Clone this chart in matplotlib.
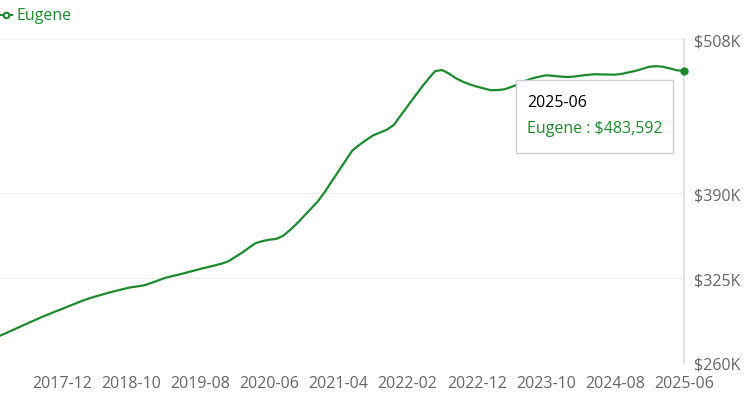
import numpy as np
import pandas as pd
import matplotlib
matplotlib.use('Agg')
import matplotlib.pyplot as plt
from matplotlib.lines import Line2D
from matplotlib.patches import Rectangle

plt.rcParams['font.family'] = ['Open Sans', 'DejaVu Sans']

# monthly values (thousand $), 2017-03 .. 2025-06
months = pd.period_range('2017-03', '2025-06', freq='M').strftime('%Y-%m').tolist()
values = [
    280.9, 283.2, 285.6, 288.0, 290.4, 292.7, 295.1, 297.2, 299.4, 301.4,
    303.6, 305.7, 307.8, 309.6, 311.2, 312.7, 314.2, 315.5, 316.8, 318.0,
    318.7, 319.6, 321.5, 323.4, 325.3, 326.6, 327.8, 329.2, 330.6, 332.0,
    333.3, 334.6, 335.9, 337.7, 341.0, 344.3, 348.1, 351.8, 353.3, 354.4,
    355.0, 357.5, 361.9, 366.9, 372.5, 378.1, 383.7, 390.9, 398.9, 406.8,
    414.8, 422.7, 426.9, 430.7, 434.2, 436.4, 438.6, 442.2, 449.5, 456.7,
    463.8, 470.9, 477.5, 483.5, 484.2, 481.5, 477.9, 475.3, 473.2, 471.6,
    470.2, 468.8, 468.9, 469.5, 471.3, 473.3, 475.9, 477.8, 479.1, 480.2,
    479.8, 479.3, 478.9, 479.2, 479.9, 480.5, 481.0, 480.9, 480.8, 480.7,
    481.3, 482.5, 483.6, 485.2, 486.8, 487.2, 486.7, 485.4, 484.0, 483.592,
]
tick_labels = ['2017-12', '2018-10', '2019-08', '2020-06', '2021-04',
               '2022-02', '2022-12', '2023-10', '2024-08', '2025-06']
y_ticks = [260, 325, 390, 508]
y_labels = ['$260K', '$325K', '$390K', '$508K']
last_label = 'Eugene : $483,592'

green = '#1d8b2d'
gray = '#666666'
fs = 11.5

fig = plt.figure(figsize=(7.44, 4.02), dpi=100)
ax = fig.add_axes([0, 38 / 402, 684 / 744, 324 / 402])

x = np.arange(len(months))
ax.plot(x, values, color=green, lw=1.6, solid_joinstyle='round')
ax.plot(x[-1], values[-1], 'o', color=green, ms=5, clip_on=False, zorder=5)

ax.set_xlim(0, len(months) - 1)
ax.set_ylim(260, 508)

ax.set_xticks([months.index(t) for t in tick_labels])
ax.set_xticklabels(tick_labels)
ax.set_yticks(y_ticks)
ax.set_yticklabels(y_labels)
ax.yaxis.tick_right()
ax.tick_params(axis='both', length=0, labelsize=fs, colors=gray)
ax.tick_params(axis='x', pad=9)
ax.tick_params(axis='y', pad=7)

ax.grid(axis='y', color='#f0f0f0', lw=1)
ax.set_axisbelow(True)
for s in ['top', 'left', 'bottom']:
    ax.spines[s].set_visible(False)
ax.spines['right'].set_color('#dddddd')
ax.spines['right'].set_linewidth(1.2)

# legend
ly = 1 - 16 / 402
fig.add_artist(Line2D([0 / 744, 12 / 744], [ly, ly], color=green, lw=1.5,
                      transform=fig.transFigure))
fig.add_artist(Line2D([6 / 744], [ly], color=green, marker='o', ms=4,
                      mfc='white', mew=1.5, transform=fig.transFigure))
fig.text(17 / 744, ly, 'Eugene', color=green, fontsize=fs,
         va='center', ha='left')

# tooltip
fig.add_artist(Rectangle((516 / 744, 1 - 154 / 402), 157 / 744, 73 / 402,
                         transform=fig.transFigure, facecolor='white',
                         edgecolor='#cccccc', lw=1, alpha=0.95))
fig.text(527 / 744, 1 - 103 / 402, months[-1], color='black', fontsize=fs,
         va='center', ha='left')
fig.text(527 / 744, 1 - 129 / 402, last_label, color=green, fontsize=fs,
         va='center', ha='left')

fig.savefig('out.png', dpi=100)
